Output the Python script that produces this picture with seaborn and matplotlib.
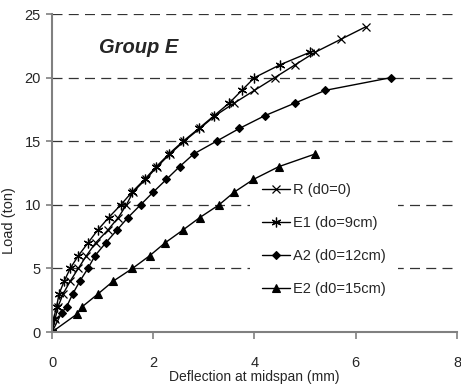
import numpy as np
import pandas as pd
import matplotlib
matplotlib.use("Agg")
import matplotlib.pyplot as plt
import seaborn as sns

# ---- data ----
r_x = [0, 0.06, 0.12, 0.22, 0.36, 0.52, 0.68, 0.86, 1.10, 1.31, 1.47, 1.60, 1.85, 2.08, 2.33, 2.61, 2.92, 3.22, 3.60, 4.00, 4.40, 4.80, 5.20, 5.70, 6.20]
r_y = [0, 1, 2, 3, 4, 5, 6, 7, 8, 9, 10, 11, 12, 13, 14, 15, 16, 17, 18, 19, 20, 21, 22, 23, 24]

e1_x = [0, 0.03, 0.09, 0.14, 0.24, 0.36, 0.52, 0.71, 0.90, 1.12, 1.36, 1.58, 1.83, 2.06, 2.31, 2.59, 2.90, 3.20, 3.50, 3.75, 4.00, 4.50, 5.10]
e1_y = [0, 1, 2, 3, 4, 5, 6, 7, 8, 9, 10, 11, 12, 13, 14, 15, 16, 17, 18, 19, 20, 21, 22]

a2_x = [0, 0.19, 0.29, 0.41, 0.55, 0.71, 0.85, 1.06, 1.28, 1.50, 1.75, 2.00, 2.26, 2.52, 2.80, 3.25, 3.70, 4.20, 4.80, 5.40, 6.70]
a2_y = [0, 1.5, 2, 3, 4, 5, 6, 7, 8, 9, 10, 11, 12, 13, 14, 15, 16, 17, 18, 19, 20]

e2_x = [0, 0.49, 0.60, 0.91, 1.21, 1.59, 1.93, 2.23, 2.58, 2.92, 3.30, 3.60, 3.98, 4.48, 5.20]
e2_y = [0, 1.4, 2, 3, 4, 5, 6, 7, 8, 9, 10, 11, 12, 13, 14]

labels = ["R (d0=0)", "E1 (do=9cm)", "A2 (d0=12cm)", "E2 (d0=15cm)"]
x_ticks = [0, 2, 4, 6, 8]
y_ticks = [0, 5, 10, 15, 20, 25]

series = [(r_x, r_y), (e1_x, e1_y), (a2_x, a2_y), (e2_x, e2_y)]
frames = []
for lab, (xs, ys) in zip(labels, series):
    frames.append(pd.DataFrame({"x": xs, "y": ys, "series": lab}))
df = pd.concat(frames, ignore_index=True)

sns.set_theme(style="white")
plt.rcParams['font.family'] = ['Liberation Sans', 'DejaVu Sans']

fig = plt.figure(figsize=(4.61, 3.88), dpi=100)
ax = fig.add_axes([0.1128, 0.1443, 0.8785, 0.8196])

styles = {
    labels[0]: dict(marker='x', markersize=5.5, mew=0.9),
    labels[1]: dict(marker=(6, 2, 0), markersize=7, mew=0.9),
    labels[2]: dict(marker='D', markersize=4.2, mew=0.8),
    labels[3]: dict(marker='^', markersize=5.5, mew=0.8),
}
for lab in labels:
    sub = df[df["series"] == lab]
    sns.lineplot(data=sub, x="x", y="y", ax=ax, sort=False, estimator=None,
                 color='black', lw=1.0, label=lab, zorder=3,
                 markerfacecolor='black', markeredgecolor='black', **styles[lab])

ax.set_xlim(0, 8)
ax.set_ylim(0, 25)
ax.set_xticks(x_ticks)
ax.set_yticks(y_ticks)
ax.set_xticklabels([str(v) for v in x_ticks], fontsize=10.5)
ax.set_yticklabels([str(v) for v in y_ticks], fontsize=10.5)

for side in ['top', 'right']:
    ax.spines[side].set_visible(False)
for side in ['left', 'bottom']:
    ax.spines[side].set_color('#808080')
    ax.spines[side].set_linewidth(1.5)
    ax.spines[side].set_zorder(4)

ax.tick_params(axis='x', direction='out', length=5, width=1.2, color='#808080', pad=12, bottom=True)
ax.tick_params(axis='y', direction='out', length=4, width=1.2, color='#808080', pad=4, left=True)

ax.yaxis.grid(True, linestyle=(0, (8, 5)), color='#333333', lw=0.9, zorder=0)
ax.xaxis.grid(False)
ax.set_axisbelow(True)

ax.set_xlabel("Deflection at midspan (mm)", fontsize=10, labelpad=0)
ax.set_ylabel("Load (ton)", fontsize=10.5)
ax.yaxis.set_label_coords(-0.088, 0.35)

ax.text(1.72, 22.4, "Group E", fontsize=14.5, fontweight='bold', fontstyle='italic',
        ha='center', va='center')

leg = ax.legend(loc='upper left', bbox_to_anchor=(0.49, 0.505), borderaxespad=0,
                frameon=True, fancybox=False, framealpha=1, facecolor='white',
                edgecolor='none', fontsize=10.5, handlelength=1.9, handletextpad=0.25,
                labelspacing=1.3, borderpad=0.8)
leg.set_zorder(2)

fig.savefig("out.png", dpi=100)
